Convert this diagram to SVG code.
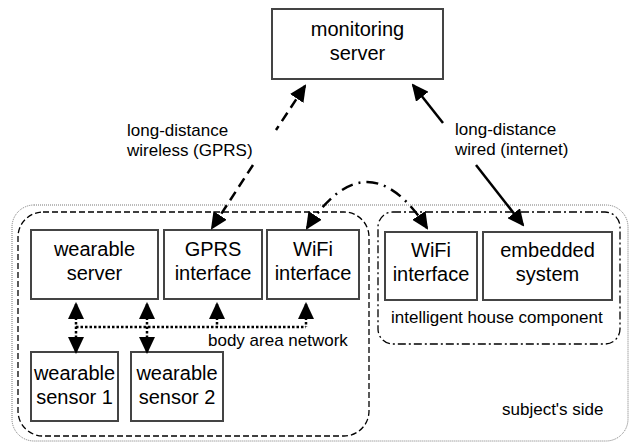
<svg xmlns="http://www.w3.org/2000/svg" width="629" height="443" viewBox="0 0 629 443">
<style>
.box{fill:#fff;stroke:#444;stroke-width:2}
.t{font-family:"Liberation Sans",Arial,sans-serif;font-size:20px;fill:#000;text-anchor:middle}
.l{font-family:"Liberation Sans",Arial,sans-serif;font-size:17px;fill:#000}
.c{fill:none;stroke:#000;stroke-width:2.5}
</style>
<defs>
<marker id="ah" markerUnits="userSpaceOnUse" markerWidth="17" markerHeight="16" refX="15" refY="8" orient="auto-start-reverse">
<path d="M0,0 L17,8 L0,16 z" fill="#000"/>
</marker>
</defs>
<g id="containers">
<rect id="subjects-side" x="12" y="205" width="616" height="236" rx="22" fill="none" stroke="#777" stroke-width="1" stroke-dasharray="1 1"/>
<rect id="body" x="18" y="212" width="351" height="224" rx="25" fill="none" stroke="#000" stroke-width="1.3" stroke-dasharray="6 3"/>
<rect id="house" x="378" y="212" width="242" height="132" rx="15" fill="none" stroke="#000" stroke-width="1.3" stroke-dasharray="8 3 2 3"/>
</g>
<g id="monitoring-server">
<rect class="box" x="272" y="9" width="171" height="70"/>
<text class="t" x="357.5" y="36">monitoring</text>
<text class="t" x="357.5" y="60">server</text>
</g>
<g id="wearable-server">
<rect class="box" x="31" y="230" width="127" height="69"/>
<text class="t" x="94.5" y="256">wearable</text>
<text class="t" x="94.5" y="280">server</text>
</g>
<g id="gprs-interface">
<rect class="box" x="164" y="230" width="98" height="69"/>
<text class="t" x="213" y="256">GPRS</text>
<text class="t" x="213" y="280">interface</text>
</g>
<g id="wifi-interface-body">
<rect class="box" x="267" y="230" width="92" height="69"/>
<text class="t" x="313" y="256">WiFi</text>
<text class="t" x="313" y="280">interface</text>
</g>
<g id="wifi-interface-house">
<rect class="box" x="385" y="232" width="92" height="68"/>
<text class="t" x="431" y="257">WiFi</text>
<text class="t" x="431" y="281">interface</text>
</g>
<g id="embedded-system">
<rect class="box" x="483" y="232" width="129" height="68"/>
<text class="t" x="547.5" y="257">embedded</text>
<text class="t" x="547.5" y="281">system</text>
</g>
<g id="wearable-sensor-1">
<rect class="box" x="31" y="352" width="87" height="69"/>
<text class="t" x="74.5" y="380">wearable</text>
<text class="t" x="74.5" y="404">sensor 1</text>
</g>
<g id="wearable-sensor-2">
<rect class="box" x="131" y="352" width="92" height="69"/>
<text class="t" x="177" y="380">wearable</text>
<text class="t" x="177" y="404">sensor 2</text>
</g>
<g id="connectors">
<path class="c" d="M305,86 L276,130" stroke-dasharray="10 6" marker-start="url(#ah)"/>
<path class="c" d="M253,165 L212,228" stroke-dasharray="10 6" marker-end="url(#ah)"/>
<path class="c" d="M413,85 L443,123" marker-start="url(#ah)"/>
<path class="c" d="M476,165 L523,225" marker-end="url(#ah)"/>
<path class="c" d="M307,228 Q367,136 427,228" stroke-dasharray="12 6 2 6" marker-start="url(#ah)" marker-end="url(#ah)"/>
<path class="c" d="M76,327 L306,327" stroke-dasharray="2.5 2"/>
<path class="c" d="M76,304 L76,352" stroke-dasharray="2.5 2" marker-start="url(#ah)" marker-end="url(#ah)"/>
<path class="c" d="M147,304 L147,352" stroke-dasharray="2.5 2" marker-start="url(#ah)" marker-end="url(#ah)"/>
<path class="c" d="M217,304 L217,327" stroke-dasharray="2.5 2" marker-start="url(#ah)"/>
<path class="c" d="M306,304 L306,327" stroke-dasharray="2.5 2" marker-start="url(#ah)"/>
</g>
<g id="labels">
<text class="l" x="127" y="136">long-distance</text>
<text class="l" x="127" y="156">wireless (GPRS)</text>
<text class="l" x="455" y="135">long-distance</text>
<text class="l" x="455" y="155">wired (internet)</text>
<text class="l" x="208" y="346">body area network</text>
<text class="l" x="391" y="323">intelligent house component</text>
<text class="l" x="502" y="415">subject's side</text>
</g>
</svg>
